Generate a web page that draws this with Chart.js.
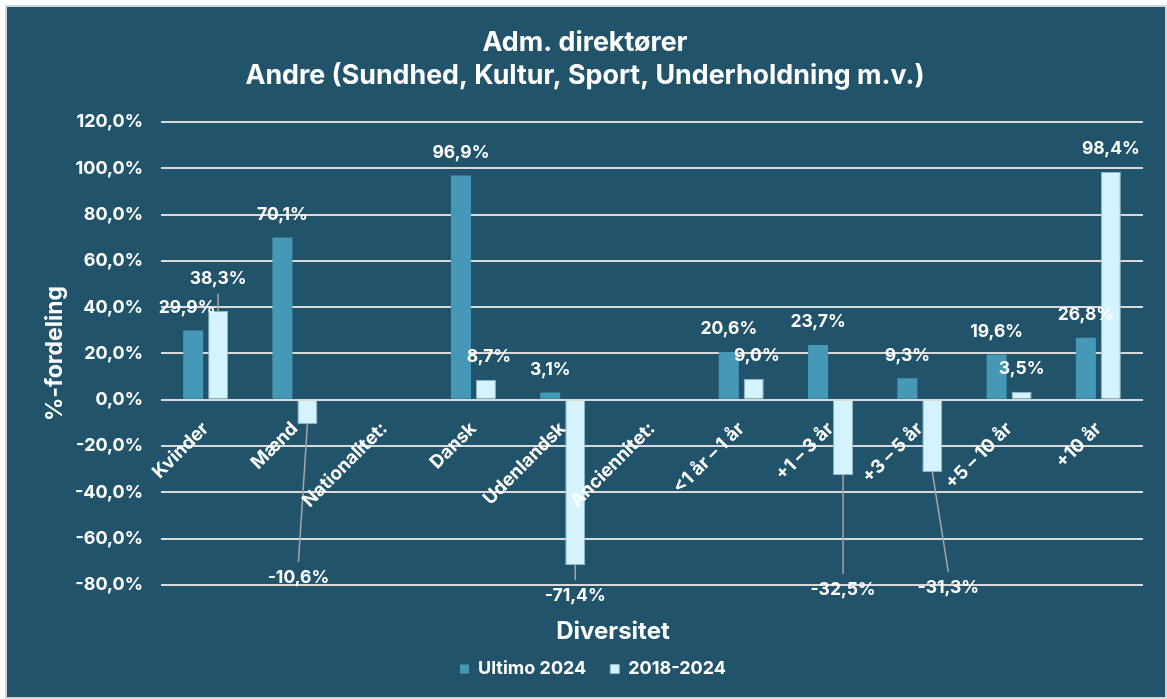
<!DOCTYPE html>
<html><head><meta charset="utf-8">
<script src="https://cdn.jsdelivr.net/npm/chart.js@4/dist/chart.umd.min.js"></script>
<style>
html,body{margin:0;padding:0;background:#fff;}
#wrap{position:absolute;left:5px;top:5px;width:1162px;height:694px;box-sizing:border-box;border:2px solid #d4d4d4;background:#21546b;}
#c{display:block}
</style></head><body>
<div id="wrap"><canvas id="c"></canvas></div>
<script>
const categories = ['Kvinder','Mænd','Nationalitet:','Dansk','Udenlandsk','Anciennitet:','<1 år – 1 år','+1 – 3 år','+3 – 5 år','+5 – 10 år','+10 år'];
const ultimo2024 = [29.9, 70.1, null, 96.9, 3.1, null, 20.6, 23.7, 9.3, 19.6, 26.8];
const change20182024 = [38.3, -10.6, null, 8.7, -71.4, null, 9.0, -32.5, -31.3, 3.5, 98.4];
const seriesNames = ['Ultimo 2024', '2018-2024'];
const xAxisTitle = 'Diversitet';
const yMin = -80, yMax = 120, yStep = 20;

const FONT = 'Inter, "Open Sans", sans-serif';
const fmt = v => v.toFixed(1).replace('.', ',') + '%';

// labels moved away from their bar (value units for y, px for x shift); line: leader line
const movedLabels = {
  '0-0': {dx: -6},
  '1-0': {at: 52.3, dx: 0, line: true},
  '1-1': {at: -77.0, dx: -9, line: true},
  '1-3': {dx: 3},
  '1-4': {at: -84.8, dx: 0, line: true},
  '1-6': {dx: 3},
  '1-7': {at: -82.2, dx: 0, line: true},
  '1-8': {at: -81.2, dx: 16, line: true}
};

const labelPlugin = {
  id: 'valueLabels',
  afterDatasetsDraw(chart) {
    const ctx = chart.ctx;
    const ys = chart.scales.y;
    ctx.save();
    ctx.font = 'bold 17.5px ' + FONT;
    ctx.textAlign = 'center';
    ctx.textBaseline = 'middle';
    chart.data.datasets.forEach((ds, di) => {
      const meta = chart.getDatasetMeta(di);
      ds.data.forEach((v, i) => {
        if (v === null || v === undefined) return;
        const el = meta.data[i];
        const mv = movedLabels[di + '-' + i] || {};
        const lx = el.x + (mv.dx || 0);
        const ly = mv.at !== undefined ? ys.getPixelForValue(mv.at) : el.y - 23;
        if (mv.line) {
          ctx.strokeStyle = '#a6a6a6';
          ctx.lineWidth = 1.5;
          ctx.beginPath();
          if (v < 0) { ctx.moveTo(el.x, el.y); ctx.lineTo(lx, ly - 16); }
          else { ctx.moveTo(lx, ly + 15); ctx.lineTo(el.x, el.y); }
          ctx.stroke();
        }
        ctx.fillStyle = '#ffffff';
        ctx.fillText(fmt(v), lx, ly);
      });
    });
    ctx.restore();
  }
};

// horizontal nudge of the bottom title and legend (they are not centred on the canvas in the original)
const shiftPlugin = {
  id: 'boxShift',
  afterLayout(chart) {
    chart.boxes.forEach(b => {
      if (b.options && b.options.text === xAxisTitle) { b.left += 28; b.right += 28; }
      if (b === chart.legend) { b.left += 8; b.right += 8; }
    });
  }
};

new Chart(document.getElementById('c'), {
  type: 'bar',
  data: {
    labels: categories,
    datasets: [
      {label: seriesNames[0], data: ultimo2024, backgroundColor: '#4599b6', borderColor: '#4599b6', borderWidth: 0},
      {label: seriesNames[1], data: change20182024, backgroundColor: '#d4f3fe', borderColor: '#8fb8c8', borderWidth: 1}
    ]
  },
  options: {
    responsive: true, maintainAspectRatio: false, animation: false,
    datasets: {bar: {categoryPercentage: 0.56, barPercentage: 0.8}},
    layout: {padding: {left: 20, right: 22, top: 0, bottom: 9}},
    plugins: {
      title: {display: true, text: ['Adm. direktører', 'Andre (Sundhed, Kultur, Sport, Underholdning m.v.)'],
        color: '#fff', font: {family: FONT, size: 26.8, weight: 'bold', lineHeight: 1.23}, padding: {top: 19.5, bottom: 29.5}},
      subtitle: {display: true, position: 'bottom', weight: 500, text: xAxisTitle, color: '#fff',
        font: {family: FONT, size: 24, weight: 'bold', lineHeight: 1.2}, padding: {top: 32.6, bottom: -10.4}},
      legend: {position: 'bottom', weight: 1000, labels: {color: '#fff', boxWidth: 9, boxHeight: 9, padding: 24,
        font: {family: FONT, size: 18, weight: 'bold'}}},
      tooltip: {enabled: false}
    },
    scales: {
      x: {
        position: {y: 0},
        grid: {display: false}, border: {display: false},
        ticks: {z: 1, color: '#fff', font: {family: FONT, size: 18.5, weight: 'bold'}, minRotation: 45, maxRotation: 45, autoSkip: false, padding: 10}
      },
      y: {
        min: yMin, max: yMax,
        grid: {color: '#d9d9d9', lineWidth: 2, drawTicks: false},
        border: {display: false},
        ticks: {stepSize: yStep, color: '#fff', font: {family: FONT, size: 18, weight: 'bold'}, padding: 18, callback: v => fmt(v)},
        title: {display: true, text: '%-fordeling', color: '#fff', font: {family: FONT, size: 23, weight: 'bold', lineHeight: 1.2}, padding: {top: 14, bottom: 0}},
        afterFit(scale) { scale.width = 134; }
      }
    }
  },
  plugins: [labelPlugin, shiftPlugin]
});
</script>
</body></html>
